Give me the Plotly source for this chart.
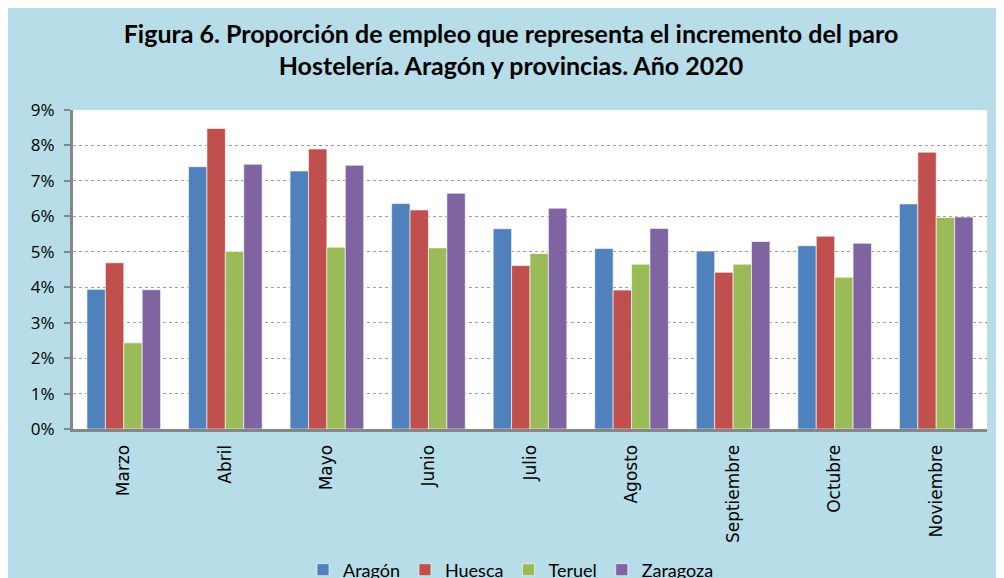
import plotly.graph_objects as go

meses = ["Marzo", "Abril", "Mayo", "Junio", "Julio", "Agosto", "Septiembre", "Octubre", "Noviembre"]
aragon = [3.94, 7.40, 7.28, 6.36, 5.65, 5.09, 5.02, 5.17, 6.35]
huesca = [4.69, 8.48, 7.90, 6.18, 4.61, 3.92, 4.42, 5.44, 7.81]
teruel = [2.43, 5.01, 5.13, 5.11, 4.95, 4.65, 4.65, 4.28, 5.97]
zaragoza = [3.93, 7.47, 7.44, 6.65, 6.23, 5.66, 5.29, 5.24, 5.98]

series = [
    ("Aragón", aragon, "#4F81BD"),
    ("Huesca", huesca, "#C0504D"),
    ("Teruel", teruel, "#9BBB59"),
    ("Zaragoza", zaragoza, "#8064A2"),
]

fig = go.Figure()
for name, vals, col in series:
    fig.add_trace(go.Bar(
        x=meses, y=[v / 100 for v in vals], name=name,
        marker=dict(color=col, line=dict(color="rgba(255,255,255,0.6)", width=1)),
    ))

BG = "#B7DDE8"
fig.update_layout(
    width=1004, height=578,
    paper_bgcolor=BG, plot_bgcolor="white",
    margin=dict(l=65, r=25, t=102, b=157, autoexpand=False),
    barmode="group", bargap=0.275, bargroupgap=0,
    title=dict(
        text="<b>Figura 6. Proporción de empleo que representa el incremento del paro<br>Hostelería. Aragón y provincias. Año 2020</b>",
        font=dict(family="Lato", size=25, color="black"),
        x=0.501, xanchor="center", xref="container",
        y=0.94, yanchor="top", yref="container",
    ),
    font=dict(family="Open Sans", color="black"),
    legend=dict(
        orientation="h", x=0.501, xanchor="center", xref="container",
        y=-0.442, yanchor="middle",
        font=dict(family="Lato", size=18, color="black"),
        bgcolor="rgba(0,0,0,0)", itemwidth=30,
    ),
    showlegend=True,
)

fig.update_yaxes(
    range=[0, 0.09], dtick=0.01, tickformat=".0%",
    showgrid=True, gridcolor="#A0A0A0", griddash="dot", gridwidth=1,
    showline=True, linecolor="#868686", linewidth=3,
    ticks="outside", ticklen=6, tickwidth=2, tickcolor="#868686",
    tickfont=dict(family="Open Sans", size=17, color="black"),
    ticklabelstandoff=6,
    zeroline=False,
)
fig.update_xaxes(
    showline=True, linecolor="#868686", linewidth=3,
    tickangle=-90, tickfont=dict(family="DejaVu Sans", size=17, color="black"),
    ticks="", ticklabelstandoff=6,
)

fig.write_html("out.html")
